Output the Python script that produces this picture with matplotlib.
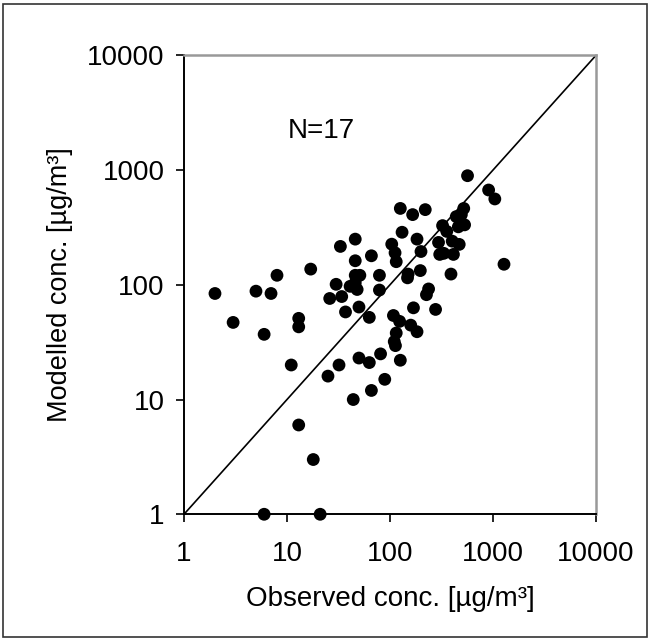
import matplotlib.pyplot as plt
from matplotlib.patches import Rectangle

plt.rcParams['font.family'] = ['Liberation Sans', 'DejaVu Sans']

# observed vs modelled concentrations (ug/m3)
observed = [2.0, 3.0, 5.0, 7.0, 8.0, 6.0, 13, 13, 17, 11, 13, 18, 6, 21, 25, 32,
            26, 30, 34, 33, 37, 41, 46, 46, 46, 46, 48, 51, 50, 44, 50, 63, 63,
            66, 66, 79, 79, 81, 89, 104, 112, 115, 126, 131, 108, 115, 110, 113,
            124, 126, 148, 150, 159, 166, 169, 183, 183, 200, 197, 220, 237, 226,
            277, 296, 304, 324, 356, 333, 391, 402, 413, 440, 461, 470, 493, 520,
            530, 566, 907, 1042, 1279]
modelled = [84, 47, 88, 84, 121, 37, 51, 43, 137, 20, 6, 3, 1, 1, 16, 20,
            76, 101, 79, 216, 58, 97, 250, 162, 121, 104, 91, 121, 64, 10, 23, 21, 52,
            12, 179, 121, 90, 25, 15, 226, 190, 159, 463, 287, 54, 38, 32, 29.5,
            48, 22, 115, 124, 44.5, 409, 63, 39, 250, 195, 133, 452, 92, 82,
            61, 234, 184, 328, 292, 188, 124, 240, 184, 393, 320, 225, 409, 463,
            333, 893, 670, 560, 151]

lims = [1, 10000]
ticks = [1, 10, 100, 1000, 10000]
tick_labels = ['1', '10', '100', '1000', '10000']

fig = plt.figure(figsize=(6.51, 6.41), dpi=100)
ax = fig.add_axes([0.2826, 0.1977, 0.6329, 0.716])

ax.plot(lims, lims, color='black', lw=1.2, zorder=2)
ax.scatter(observed, modelled, s=85, color='black', edgecolors='none', zorder=3, clip_on=False)

ax.set_xscale('log')
ax.set_yscale('log')
ax.set_xlim(lims)
ax.set_ylim(lims)
ax.set_xticks(ticks)
ax.set_xticklabels(tick_labels)
ax.set_yticks(ticks)
ax.set_yticklabels(tick_labels)
ax.minorticks_off()
ax.tick_params(direction='out', length=6, width=1.2, labelsize=20)
ax.tick_params(axis='x', pad=13)
ax.tick_params(axis='y', pad=8)

for side in ['top', 'right']:
    ax.spines[side].set_color('#999999')
    ax.spines[side].set_linewidth(1.8)
for side in ['left', 'bottom']:
    ax.spines[side].set_color('black')
    ax.spines[side].set_linewidth(1.4)

ax.set_xlabel('Observed conc. [µg/m³]', fontsize=20, labelpad=14)
ax.set_ylabel('Modelled conc. [µg/m³]', fontsize=19.5, labelpad=10)
ax.text(0.334, 0.835, 'N=17', transform=ax.transAxes, fontsize=20,
        ha='center', va='center')

fig.patches.append(Rectangle((3 / 651, 4 / 641), 644 / 651, 633 / 641,
                             transform=fig.transFigure, fill=False,
                             edgecolor='#333333', lw=1.2))

fig.savefig('out.png', dpi=100)
